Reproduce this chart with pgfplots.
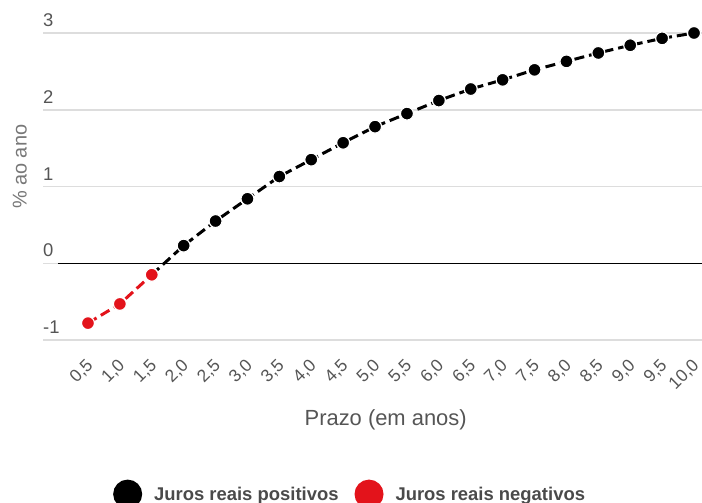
\documentclass[border=0pt]{standalone}
\usepackage{pgfplots}
\pgfplotsset{compat=1.18}
\usepackage{fontspec}
\setmainfont{Liberation Sans}
\definecolor{myred}{HTML}{E3131B}
\definecolor{tickc}{HTML}{555555}
\definecolor{ylab}{HTML}{777777}
\definecolor{leg}{HTML}{4A4A4A}
\definecolor{gridc}{HTML}{DDDDDD}
\begin{document}
\begin{tikzpicture}
\begin{axis}[
 scale only axis, width=659bp, height=307bp,
 xmin=-0.205, xmax=10.125, ymin=-1, ymax=3,
 axis line style={draw=none},
 major tick length=0pt,
 clip=false,
 ytick={-1,0,1,2,3}, yticklabels={-1,0,1,2,3},
 ymajorgrids, grid style={color=gridc, line width=1.5bp},
 yticklabel style={anchor=south west, inner sep=0pt, yshift=6bp, font=\fontsize{18.5}{20}\selectfont, text=tickc},
 xtick={0.5,1,1.5,2,2.5,3,3.5,4,4.5,5,5.5,6,6.5,7,7.5,8,8.5,9,9.5,10},
 xticklabel style={xshift=3bp, yshift=-22bp, rotate=45, anchor=east, inner sep=1bp, font=\fontsize{17.5}{20}\selectfont, text=tickc,
   /pgf/number format/.cd, use comma, fixed, fixed zerofill, precision=1, assume math mode=true},
 xlabel={Prazo (em anos)},
 xlabel style={at={(axis description cs:0.52,-0.26)}, anchor=center, font=\fontsize{22}{24}\selectfont, text=tickc},
 ylabel={\% ao ano},
 ylabel style={at={(axis description cs:-0.035,0.564)}, anchor=center, rotate=0, font=\fontsize{20}{22}\selectfont, text=ylab},
 legend columns=2,
 legend style={at={(axis description cs:0.466,-0.502)}, anchor=center, draw=none, fill=none,
   font=\fontsize{18.5}{20}\selectfont\bfseries, text=leg,
   /tikz/every odd column/.append style={column sep=10bp},
   /tikz/every even column/.append style={column sep=14bp}},
 legend image code/.code={\fill[solid] (0bp,0bp) circle (13bp);},
]
\coordinate (sw) at (rel axis cs:0,0);
\addplot[black, line width=0.8bp, forget plot] coordinates {(0.03,0) (10.125,0)};
\addplot[color=black, line width=3bp, dash pattern=on 10bp off 5bp, mark=*, mark size=6.5bp,
  mark options={solid, draw=white, line width=1.2bp, fill=black}]
  coordinates {(1.5,-0.15) (2,0.23) (2.5,0.55) (3,0.84) (3.5,1.13) (4,1.35) (4.5,1.57) (5,1.78) (5.5,1.95) (6,2.12) (6.5,2.27) (7,2.39) (7.5,2.52) (8,2.63) (8.5,2.74) (9,2.84) (9.5,2.93) (10,3.00)};
\addlegendentry{Juros reais positivos}
\addplot[color=myred, line width=3bp, dash pattern=on 10bp off 5bp, mark=*, mark size=6.5bp,
  mark options={solid, draw=white, line width=1.2bp, fill=myred}]
  coordinates {(0.5,-0.78) (1,-0.53) (1.5,-0.15)};
\addlegendentry{Juros reais negativos}
\end{axis}
\pgfresetboundingbox
\path[use as bounding box] ([xshift=-43bp,yshift=-163bp]sw) rectangle ([xshift=659bp,yshift=340bp]sw);
\end{tikzpicture}
\end{document}
